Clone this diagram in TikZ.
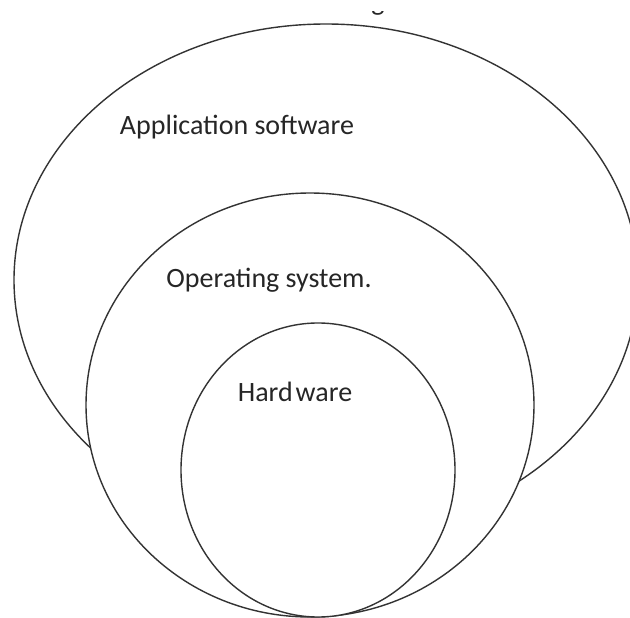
\documentclass[tikz,border=0pt]{standalone}
\usepackage{fontspec}
\setmainfont{Carlito}
\usetikzlibrary{shapes.geometric}
\tikzstyle{layer} = [ellipse, draw=black!80, line width=1.4pt, fill=white, inner sep=0pt]
\tikzstyle{label} = [font=\fontsize{28}{32}\selectfont, text=black!85, inner sep=0pt]

\begin{document}
\begin{tikzpicture}[x=1pt, y=-1pt]

  \useasboundingbox (0,0) rectangle (630,618);

  \node (app) [layer, minimum width=624pt, minimum height=512pt] at (326,280) {};
  \node (os) [layer, minimum width=448pt, minimum height=424pt] at (310,405) {};
  \node (hw) [layer, minimum width=274pt, minimum height=294pt] at (318,470) {};

  \node (applbl) [label] at (237,127) {Application software};
  \node (oslbl) [label] at (269,280) {Operating system.};
  \node (hwlbl) [label] at (295,392) {Hard\hspace{3pt}ware};

  % only the tail of a cut-off line shows at the top
  \begin{scope}
    \clip (360,12) rectangle (400,22);
    \node (cut) [label, anchor=base] at (378,11) {g};
  \end{scope}

\end{tikzpicture}
\end{document}
